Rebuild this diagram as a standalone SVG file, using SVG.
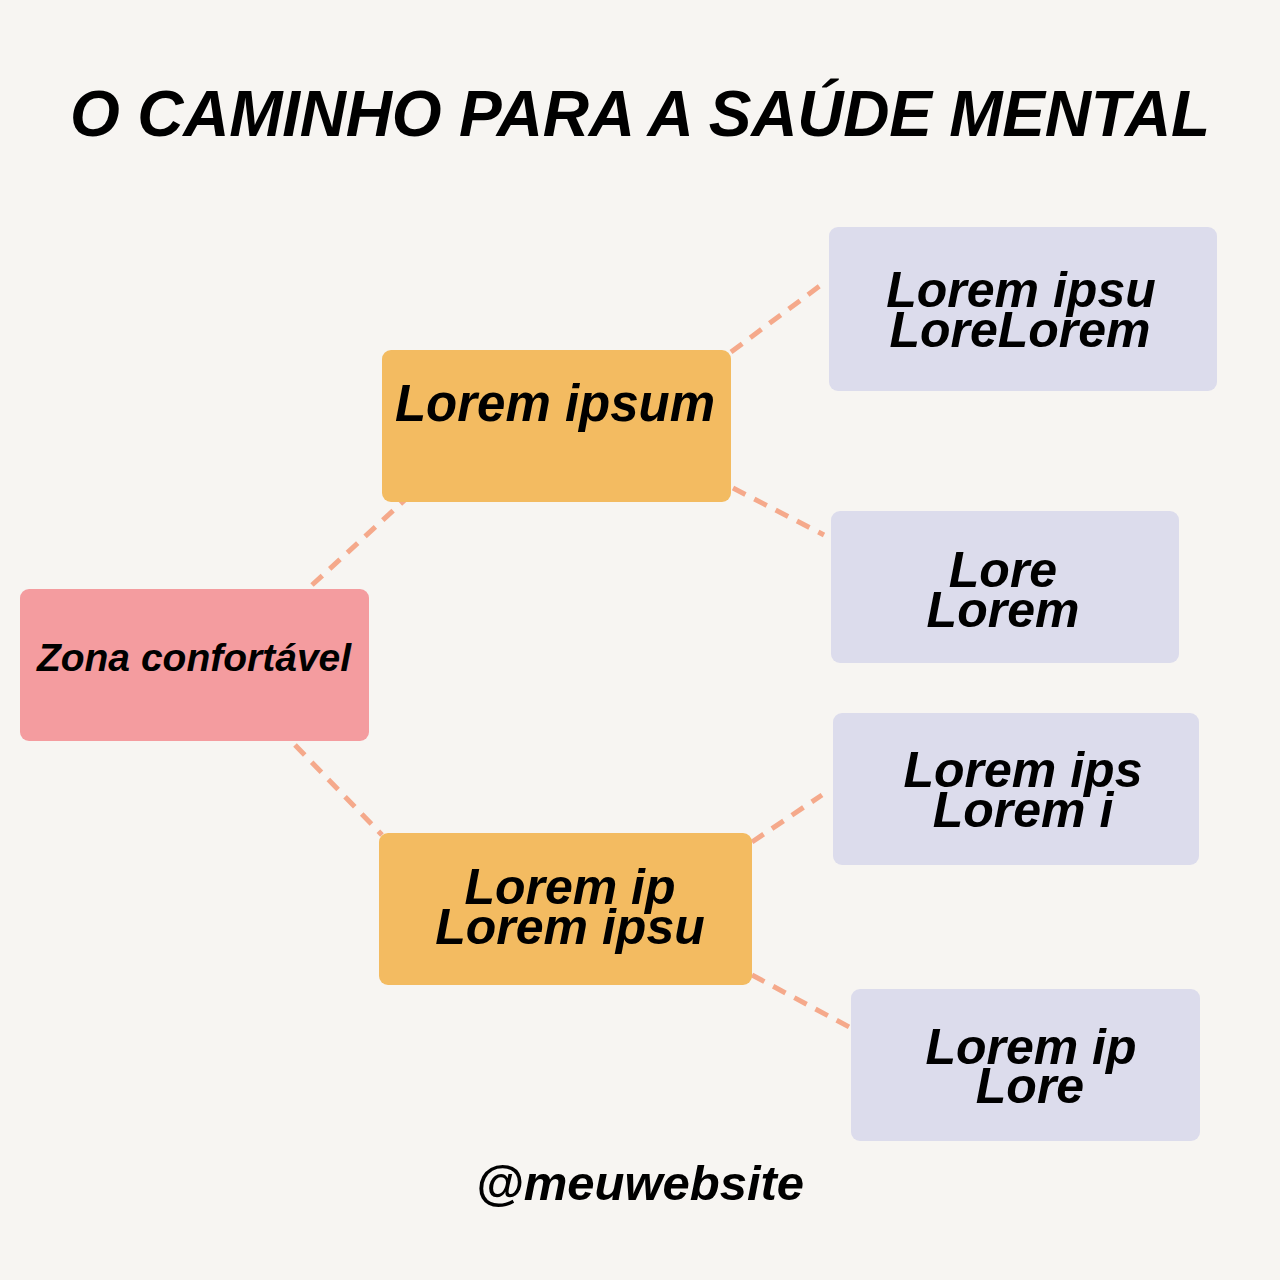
<svg xmlns="http://www.w3.org/2000/svg" width="1280" height="1280" viewBox="0 0 1280 1280">
<style>
.t{font-family:"Liberation Sans",Arial,sans-serif;font-weight:bold;font-style:italic;fill:#000;text-anchor:middle}
.n{font-size:50px}
.c{fill:none;stroke:#f5a98b;stroke-width:5;stroke-dasharray:14 10}
.or{fill:#f3bb61}
.pk{fill:#f49c9f}
.lv{fill:#dcdcec}
</style>
<rect width="1280" height="1280" fill="#f7f5f2"/>
<text class="t" x="640" y="136" font-size="64" textLength="1140" lengthAdjust="spacing">O CAMINHO PARA A SAÚDE MENTAL</text>
<g id="connectors">
<line class="c" x1="312" y1="585" x2="420" y2="486"/>
<line class="c" x1="295" y1="745" x2="382" y2="835"/>
<line class="c" x1="731" y1="352" x2="825" y2="282"/>
<line class="c" x1="733" y1="488" x2="824" y2="535"/>
<line class="c" x1="752" y1="842" x2="822" y2="795"/>
<line class="c" x1="752" y1="975" x2="851" y2="1028"/>
</g>
<g id="zona">
<rect class="pk" x="20" y="589" width="349" height="152" rx="9"/>
<text class="t" x="194" y="671" font-size="39">Zona confortável</text>
</g>
<g id="orange1">
<rect class="or" x="382" y="350" width="349" height="152" rx="9"/>
<text class="t" x="555" y="421" font-size="51">Lorem ipsum</text>
</g>
<g id="orange2">
<rect class="or" x="379" y="833" width="373" height="152" rx="9"/>
<text class="t n" x="570" y="904">Lorem ip</text>
<text class="t n" x="570" y="944">Lorem ipsu</text>
</g>
<g id="lav1">
<rect class="lv" x="829" y="227" width="388" height="164" rx="9"/>
<text class="t n" x="1021" y="307">Lorem ipsu</text>
<text class="t n" x="1020" y="347">LoreLorem</text>
</g>
<g id="lav2">
<rect class="lv" x="831" y="511" width="348" height="152" rx="9"/>
<text class="t n" x="1003" y="587">Lore</text>
<text class="t n" x="1003" y="627">Lorem</text>
</g>
<g id="lav3">
<rect class="lv" x="833" y="713" width="366" height="152" rx="9"/>
<text class="t n" x="1023" y="787">Lorem ips</text>
<text class="t n" x="1023" y="827">Lorem i</text>
</g>
<g id="lav4">
<rect class="lv" x="851" y="989" width="349" height="152" rx="9"/>
<text class="t n" x="1031" y="1064">Lorem ip</text>
<text class="t n" x="1030" y="1103">Lore</text>
</g>
<text class="t" x="640" y="1200" font-size="49">@meuwebsite</text>
</svg>
